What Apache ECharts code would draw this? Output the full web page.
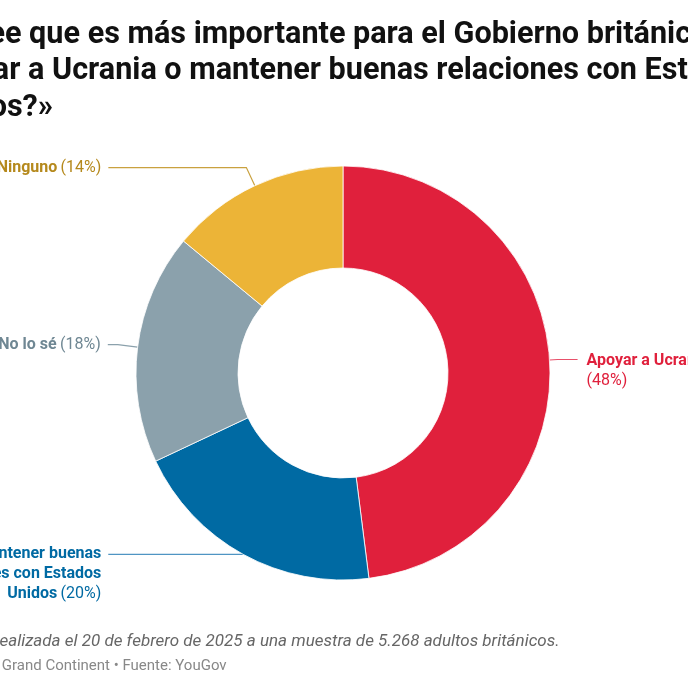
<!DOCTYPE html>
<html>
<head>
<meta charset="utf-8">
<script src="https://cdn.jsdelivr.net/npm/echarts@6/dist/echarts.min.js"></script>
<style>
  html, body { margin: 0; padding: 0; background: #fff; }
  #main { width: 688px; height: 688px; }
</style>
</head>
<body>
<div id="main"></div>
<script>
// datos de la encuesta
var categories = ['Apoyar a Ucrania', 'Mantener buenas\nrelaciones con Estados\nUnidos', 'No lo sé', 'Ninguno'];
var values = [48, 20, 18, 14];
var sliceColors = ['#e0203c', '#006aa3', '#8ba1ac', '#ecb437'];
var textColors = ['#e0203c', '#006aa3', '#6f8793', '#b5891c'];
var lineColors = ['#e8506a', '#4f95c3', '#8ba1ac', '#c9a13f'];

var titleText = '«¿Cree que es más importante para el Gobierno británico\napoyar a Ucrania o mantener buenas relaciones con Estados\nUnidos?»';
var noteText = 'Encuesta realizada el 20 de febrero de 2025 a una muestra de 5.268 adultos británicos.';
var sourceText = 'Le Grand Continent • Fuente: YouGov';

var myChart = echarts.init(document.getElementById('main'));

// ajustes de etiqueta por sector
var labelSide = [
    {len: 8, len2: 20, pad: [22, 0, 0, 0], dist: 9},
    {len: 0, len2: 135, pad: [40, 0, 0, 0], dist: 7},
    {len: 20, len2: 10, pad: 0, dist: 7},
    {len: 20, len2: 138, pad: 0, dist: 7}
];

var pieData = categories.map(function (name, i) {
    return {
        name: name,
        value: values[i],
        itemStyle: {color: sliceColors[i]},
        label: {
            padding: labelSide[i].pad,
            distanceToLabelLine: labelSide[i].dist,
            rich: {
                b: {fontWeight: 'bold', color: textColors[i], fontSize: 16, lineHeight: 20, fontFamily: 'Roboto'},
                p: {color: textColors[i], fontSize: 16, lineHeight: 20, fontFamily: 'Roboto'}
            }
        },
        labelLine: {
            length: labelSide[i].len,
            length2: labelSide[i].len2,
            lineStyle: {color: lineColors[i], width: 1.2}
        }
    };
});

var option = {
    backgroundColor: '#fff',
    animation: false,
    title: [
        {
            text: titleText,
            left: -78,
            top: 12,
            textStyle: {fontFamily: 'Roboto', fontWeight: 'bold', fontSize: 30.6, lineHeight: 36.5, color: '#111'}
        },
        {
            text: noteText,
            left: -83,
            top: 628,
            textStyle: {fontFamily: 'Roboto', fontStyle: 'italic', fontWeight: 'normal', fontSize: 17, color: '#666'}
        },
        {
            text: sourceText,
            left: -23,
            top: 654,
            textStyle: {fontFamily: 'Roboto', fontWeight: 'normal', fontSize: 15, color: '#888'}
        }
    ],
    series: [
        {
            type: 'pie',
            left: 0, right: 0, top: 0, bottom: 0,
            center: [343, 373],
            radius: [105, 207],
            startAngle: 90,
            clockwise: true,
            avoidLabelOverlap: false,
            itemStyle: {borderColor: '#fff', borderWidth: 0.8},
            label: {
                show: true,
                position: 'outside',
                formatter: function (p) {
                    var parts = p.name.split('\n');
                    var last = parts.pop();
                    var lines = parts.map(function (s) { return '{b|' + s + '}'; });
                    var sep = p.dataIndex === 0 ? '}\n{p|' : '} {p|';
                    lines.push('{b|' + last + sep + '(' + p.value + '%)}');
                    return lines.join('\n');
                }
            },
            emphasis: {disabled: true},
            data: pieData
        }
    ]
};

myChart.setOption(option);
</script>
</body>
</html>
